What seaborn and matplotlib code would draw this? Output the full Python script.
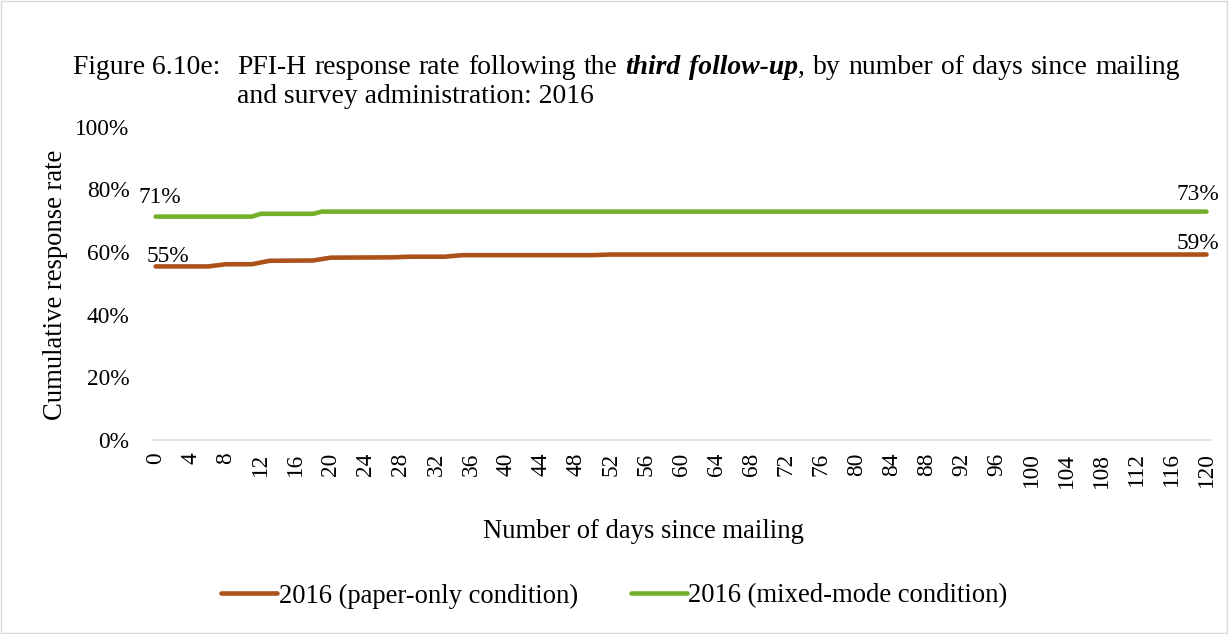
import matplotlib
matplotlib.use('Agg')
import matplotlib.pyplot as plt
import seaborn as sns
import pandas as pd
from matplotlib.patches import Rectangle

# values (cumulative response rate, %)
paper_days = [0, 6, 8, 11, 13, 18, 20, 27, 29, 33, 35, 50, 52, 120]
paper_rate = [55.4, 55.4, 56.1, 56.1, 57.2, 57.3, 58.2, 58.3, 58.5, 58.5, 59.0, 59.0, 59.2, 59.2]
mixed_days = [0, 11, 12, 18, 19, 120]
mixed_rate = [71.3, 71.3, 72.2, 72.2, 72.9, 72.9]
series_names = ['2016 (paper-only condition)', '2016 (mixed-mode condition)']
series_colors = ['#AB521B', '#74B12A']
x_ticks = list(range(0, 121, 4))
y_ticks = [0, 20, 40, 60, 80, 100]

df = pd.concat([
    pd.DataFrame({'day': paper_days, 'rate': paper_rate, 'series': series_names[0]}),
    pd.DataFrame({'day': mixed_days, 'rate': mixed_rate, 'series': series_names[1]}),
])

sns.set_style('white')
plt.rcParams['font.family'] = ['Liberation Serif', 'DejaVu Serif']
plt.rcParams['text.color'] = 'black'
plt.rcParams['xtick.color'] = 'black'
plt.rcParams['ytick.color'] = 'black'
fs_title = 19.9
fs_big = 19.2
fs_small = 16.8

W, H = 1229, 634
fig = plt.figure(figsize=(W / 100, H / 100), dpi=100)
ax = fig.add_axes([153 / W, 194 / H, (1210 - 153) / W, (507.3 - 194) / H])

sns.lineplot(data=df, x='day', y='rate', hue='series', palette=series_colors,
             hue_order=series_names, linewidth=3.3, ax=ax, legend=False,
             solid_capstyle='round')

ax.set_xlim(-0.3, 120.4)
ax.set_ylim(0, 100)
ax.set_xticks(x_ticks)
ax.set_xticklabels([str(t) for t in x_ticks], rotation=90, fontsize=fs_small)
ax.set_yticks(y_ticks)
ax.set_yticklabels([f'{t}%' for t in y_ticks], fontsize=fs_small)
ax.tick_params(axis='x', length=0, pad=9)
ax.tick_params(axis='y', length=0, pad=17)
for s in ['top', 'right', 'left']:
    ax.spines[s].set_visible(False)
ax.spines['bottom'].set_color('#D9D9D9')
ax.spines['bottom'].set_linewidth(1.2)
ax.set_xlabel('')
ax.set_ylabel('')
fig.text(643.5 / W, 1 - 531 / H, 'Number of days since mailing', fontsize=fs_big, ha='center', va='center')
fig.text(55 / W, 1 - 285 / H, 'Cumulative response rate', fontsize=fs_big, ha='center', va='center', rotation=90)

# data labels at first and last points (offsets in points)
label_pts = [
    (paper_days[0], paper_rate[0], 8.6, 2.9),
    (mixed_days[0], mixed_rate[0], 3.0, 9.9),
    (paper_days[-1], paper_rate[-1], -6.0, 3.8),
    (mixed_days[-1], mixed_rate[-1], -6.0, 8.4),
]
for x, y, dx, dy in label_pts:
    ax.annotate(f'{y:.0f}%', (x, y), xytext=(dx, dy), textcoords='offset points',
                fontsize=fs_small, ha='center', va='baseline')

# title: first line justified like the Word caption
renderer = fig.canvas.get_renderer()
base1 = 1 - 74 / H
base2 = 1 - 103 / H
fig.text(73 / W, base1, 'Figure 6.10e:', fontsize=fs_title, va='baseline')
words = [[('PFI-H', '')], [('response', '')], [('rate', '')], [('following', '')], [('the', '')],
         [('third', 'bi')], [('follow-up', 'bi'), (',', '')], [('by', '')], [('number', '')],
         [('of', '')], [('days', '')], [('since', '')], [('mailing', '')]]
x_start, x_end = 237, 1180


def make_piece(x, txt, style):
    kw = dict(fontweight='bold', fontstyle='italic') if style == 'bi' else {}
    return fig.text(x / W, base1, txt, fontsize=fs_title, va='baseline', **kw)


widths = []
for word in words:
    total = 0
    for txt, style in word:
        t = make_piece(0, txt, style)
        total += t.get_window_extent(renderer).width
        t.remove()
    widths.append(total)
gap = (x_end - x_start - sum(widths)) / (len(words) - 1)
x = x_start
for word, wd in zip(words, widths):
    for txt, style in word:
        t = make_piece(x, txt, style)
        x += t.get_window_extent(renderer).width
    x += gap
fig.text(x_start / W, base2, 'and survey administration: 2016', fontsize=fs_title, va='baseline')

handles = [plt.Line2D([], [], color=c, lw=3.3, solid_capstyle='round') for c in series_colors]
fig.legend(handles, series_names, loc='center', bbox_to_anchor=(0.5, 1 - 596 / H), ncol=2,
           frameon=False, fontsize=fs_big, handlelength=2.1, handletextpad=0.05, columnspacing=2.0)

fig.patches.append(Rectangle((0.001, 0.002), 0.997, 0.996, transform=fig.transFigure,
                             fill=False, edgecolor='#D9D9D9', lw=1))

fig.savefig('out.png', dpi=100)
